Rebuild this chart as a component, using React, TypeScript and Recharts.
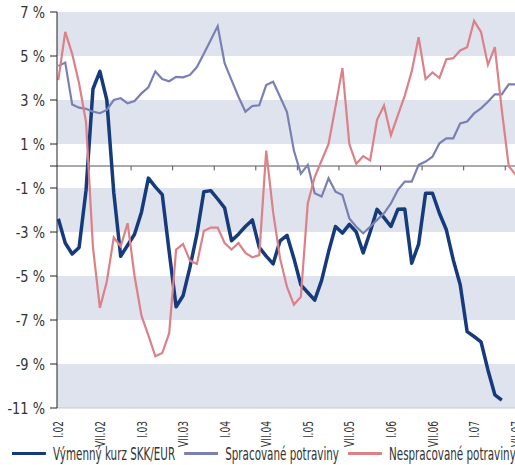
import { LineChart, Line, XAxis, YAxis, ReferenceArea, ReferenceLine } from 'recharts';

// monthly, I.02 .. VII.07
const X_LABELS = ['I.02', 'VII.02', 'I.03', 'VII.03', 'I.04', 'VII.04', 'I.05', 'VII.05', 'I.06', 'VII.06', 'I.07', 'VII.07'];

const SKK_EUR = [
    -2.4, -3.5, -4.0, -3.7, -1.1, 3.5, 4.3, 3.0, -1.2, -4.1,
    -3.6, -3.1, -2.1, -0.55, -0.95, -1.3, -3.9, -6.4, -5.9, -4.6,
    -3.1, -1.17, -1.12, -1.5, -1.9, -3.4, -3.1, -2.75, -2.45, -3.7,
    -4.1, -4.45, -3.4, -3.15, -4.2, -5.4, -5.75, -6.1, -5.2, -3.9,
    -2.75, -3.05, -2.65, -3.0, -3.95, -3.0, -1.97, -2.35, -2.75, -1.97,
    -1.95, -4.42, -3.55, -1.24, -1.24, -2.15, -2.9, -4.27, -5.4, -7.53,
    -7.75, -7.99, -9.27, -10.4, -10.64,
];

const SPRACOVANE = [
    4.55, 4.7, 2.8, 2.65, 2.6, 2.47, 2.4, 2.55, 3.0, 3.08,
    2.85, 2.95, 3.3, 3.58, 4.3, 3.95, 3.85, 4.05, 4.03, 4.14,
    4.5, 5.1, 5.73, 6.36, 4.67, 3.9, 3.15, 2.47, 2.73, 2.76,
    3.68, 3.83, 3.15, 2.45, 0.7, -0.35, 0.05, -1.24, -1.39, -0.56,
    -1.17, -1.32, -2.38, -2.76, -3.06, -2.76, -2.45, -2.15, -1.7, -1.09,
    -0.71, -0.71, 0.05, 0.2, 0.42, 1.03, 1.26, 1.26, 1.94, 2.02,
    2.39, 2.62, 2.92, 3.26, 3.26, 3.71, 3.71,
];

const NESPRACOVANE = [
    3.9, 6.1, 5.1, 3.75, 2.0, -3.7, -6.45, -5.25, -3.25, -3.65,
    -2.6, -5.0, -6.8, -7.7, -8.65, -8.5, -7.6, -3.8, -3.55, -4.3,
    -4.45, -2.95, -2.8, -2.8, -3.5, -3.8, -3.5, -3.95, -4.15, -4.05,
    0.7, -2.1, -4.2, -5.5, -6.3, -5.95, -1.7, -0.5, 0.25, 1.0,
    2.7, 4.45, 1.0, 0.1, 0.45, 0.25, 2.1, 2.75, 1.4, 2.3,
    3.2, 4.3, 5.85, 3.95, 4.25, 4.0, 4.85, 4.9, 5.25, 5.4,
    6.6, 6.1, 4.6, 5.4, 2.55, 0.0, -0.4,
];

const Y_TICKS = [-11, -9, -7, -5, -3, -1, 0, 1, 3, 5, 7];
const BANDS = [[5, 7], [1, 3], [-3, -1], [-7, -5], [-11, -9]];

const COLORS = {
    skk: '#163b7c',
    spr: '#7a80b3',
    nes: '#dc8188',
    band: '#dee3ed',
    text: '#333333',
};

const FONT = "'DejaVu Sans Condensed', 'DejaVu Sans', sans-serif";
// the original uses a narrow font, so the text is squeezed sideways
const TICK_SQUEEZE = 0.72;
const LEGEND_SQUEEZE = 0.64;

const data = SPRACOVANE.map((v, i) => ({
    i,
    skk: SKK_EUR[i],
    spr: v,
    nes: NESPRACOVANE[i],
}));

const xTicks = X_LABELS.map((_, k) => k * 6);
// small marks on the zero line, between half-years
const zeroMarks = X_LABELS.slice(1).map((_, k) => 4.5 + k * 6);

function XTick({ x, y, payload }: any) {
    const label = X_LABELS[Math.round(payload.value / 6)];
    return (
        <text transform={`translate(${x}, ${y + 5}) rotate(-90) scale(${TICK_SQUEEZE}, 1)`} textAnchor="end" dy="0.36em"
            fontSize={14} fill={COLORS.text} fontFamily={FONT}>
            {label}
        </text>
    );
}

function YTick({ x, y, payload }: any) {
    if (payload.value === 0) return null;
    return (
        <text transform={`translate(${x}, ${y}) scale(0.9, 1)`} textAnchor="end" dy="0.36em"
            fontSize={16} fill={COLORS.text} fontFamily={FONT}>
            {`${payload.value} %`}
        </text>
    );
}

function LegendItem({ color, label }: { color: string; label: string }) {
    return (
        <div style={{ display: 'flex', alignItems: 'center', marginRight: 9 / LEGEND_SQUEEZE }}>
            <div style={{ width: 34 / LEGEND_SQUEEZE, height: 3, background: color, marginRight: 7 / LEGEND_SQUEEZE }} />
            <span style={{ whiteSpace: 'nowrap' }}>{label}</span>
        </div>
    );
}

export default function App() {
    return (
        <div style={{ position: 'absolute', left: 0, top: 0, width: 515, height: 465, overflow: 'hidden', background: '#fff', fontFamily: FONT }}>
            <LineChart width={530} height={465} data={data} margin={{ top: 12, right: 5, left: 0, bottom: 0 }}>
                {BANDS.map(([y1, y2]) => (
                    <ReferenceArea key={y1} y1={y1} y2={y2} fill={COLORS.band} fillOpacity={1} stroke="none" />
                ))}
                <XAxis type="number" dataKey="i" domain={[-0.19, 67.35]} ticks={xTicks} interval={0}
                    allowDataOverflow height={57} tickLine={false} axisLine={{ stroke: '#c4c8d0' }} tick={<XTick />} />
                <YAxis domain={[-11, 7]} ticks={Y_TICKS} interval={0} width={57} tickSize={7} tickMargin={5}
                    axisLine={{ stroke: '#222' }} tickLine={{ stroke: '#222' }} tick={<YTick />} />
                <ReferenceLine y={0} stroke="#555" strokeWidth={1} />
                {zeroMarks.map((t) => (
                    <ReferenceLine key={t} segment={[{ x: t, y: 0 }, { x: t, y: -0.2 }]} stroke="#555" />
                ))}
                <Line dataKey="skk" stroke={COLORS.skk} strokeWidth={3.5} dot={false} isAnimationActive={false} strokeLinejoin="round" />
                <Line dataKey="spr" stroke={COLORS.spr} strokeWidth={2.2} dot={false} isAnimationActive={false} />
                <Line dataKey="nes" stroke={COLORS.nes} strokeWidth={2.2} dot={false} isAnimationActive={false} />
            </LineChart>
            <div style={{
                position: 'absolute', left: 12, top: 440, height: 26, display: 'flex', alignItems: 'center',
                fontSize: 18, color: COLORS.text, transform: `scaleX(${LEGEND_SQUEEZE})`, transformOrigin: 'left center',
            }}>
                <LegendItem color={COLORS.skk} label="Výmenný kurz SKK/EUR" />
                <LegendItem color={COLORS.spr} label="Spracované potraviny" />
                <LegendItem color={COLORS.nes} label="Nespracované potraviny" />
            </div>
        </div>
    );
}
